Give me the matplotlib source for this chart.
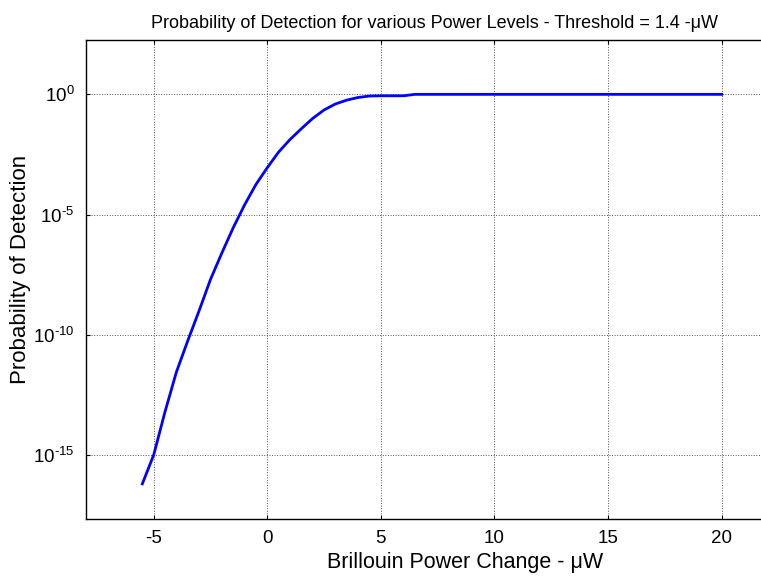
import numpy as np
import matplotlib
matplotlib.use("Agg")
import matplotlib.pyplot as plt
from matplotlib.ticker import FixedLocator, FuncFormatter

# Brillouin power change (uW) and log10 of detection probability
power = [-5.5, -5.0, -4.5, -4.0, -3.5, -3.0, -2.5, -2.0, -1.5, -1.0, -0.5,
         0.0, 0.5, 1.0, 1.5, 2.0, 2.5, 3.0, 3.5, 4.0, 4.5, 5.0, 5.5, 6.0,
         6.5, 7.0, 8.0, 9.0, 10.0, 11.0, 12.0, 13.0, 14.0, 15.0, 16.0,
         17.0, 18.0, 19.0, 20.0]
log_pd = [-16.2, -15.0, -13.2, -11.55, -10.25, -9.0, -7.7, -6.6, -5.55,
          -4.6, -3.75, -3.05, -2.4, -1.88, -1.43, -1.0, -0.65, -0.4, -0.24,
          -0.13, -0.07, -0.06, -0.06, -0.06,
          0.0, 0.0, 0.0, 0.0, 0.0, 0.0, 0.0, 0.0, 0.0, 0.0, 0.0,
          0.0, 0.0, 0.0, 0.0]
x_ticks = [-5, 0, 5, 10, 15, 20]
y_ticks = [1e-15, 1e-10, 1e-5, 1e0]

plt.rcParams['font.family'] = ['Liberation Sans', 'DejaVu Sans']
plt.rcParams['axes.unicode_minus'] = False
plt.rcParams['mathtext.fontset'] = 'custom'
plt.rcParams['mathtext.rm'] = 'Liberation Sans'
plt.rcParams['mathtext.it'] = 'Liberation Sans'

fig = plt.figure(figsize=(7.61, 5.77), dpi=100)
# axes run slightly past the right edge of the canvas
ax = fig.add_axes([85.5 / 761, 58 / 577, 681.6 / 761, 479 / 577])

pd_vals = 10.0 ** np.array(log_pd)
ax.plot(power, pd_vals, color='#0000ff', lw=2.0)

ax.set_yscale('log')
ax.set_xlim(-8, 22)
ax.set_ylim(10 ** -17.66, 10 ** 2.26)
ax.set_xticks(x_ticks)
ax.yaxis.set_major_locator(FixedLocator(y_ticks))
ax.yaxis.set_minor_locator(FixedLocator([]))
ax.yaxis.set_major_formatter(
    FuncFormatter(lambda v, _: r'$10^{\text{%d}}$' % round(np.log10(v))))

ax.tick_params(direction='in', length=3, width=0.8, labelsize=13.5,
               top=True, right=True, pad=8)
ax.grid(True, color='#555555', ls=':', lw=0.7)
for s in ax.spines.values():
    s.set_linewidth(1.0)

ax.set_title('Probability of Detection for various Power Levels - '
             'Threshold = 1.4 -μW', fontsize=13, x=(434 - 85.5) / 681.6,
             pad=9)
ax.set_xlabel('Brillouin Power Change - μW', fontsize=15.5)
ax.xaxis.set_label_coords((465 - 85.5) / 681.6, -33 / 479)
ax.set_ylabel('Probability of Detection', fontsize=16)
ax.yaxis.set_label_coords(-(85.5 - 31) / 681.6, 0.52)

fig.savefig('out.png', dpi=100)
